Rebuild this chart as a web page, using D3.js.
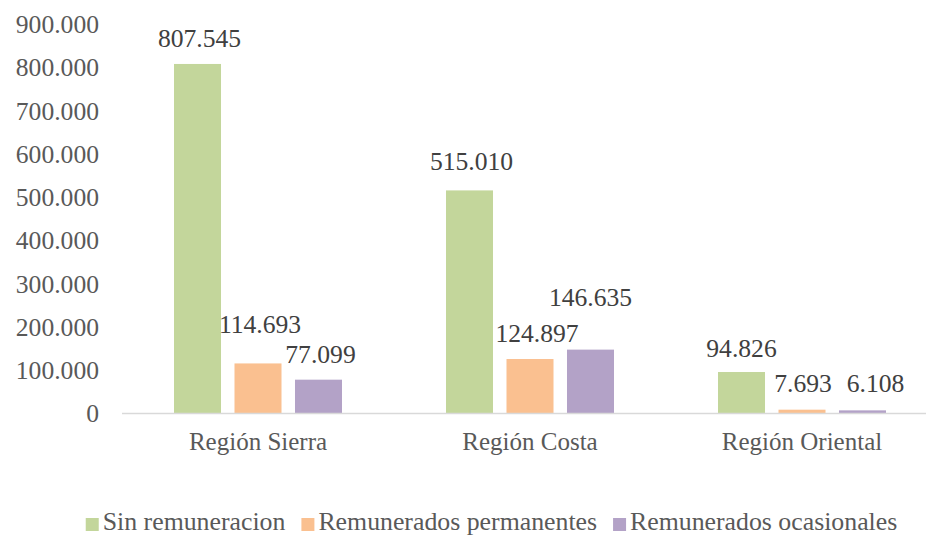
<!DOCTYPE html>
<html><head><meta charset="utf-8">
<script src="https://cdn.jsdelivr.net/npm/d3@7"></script>
<style>
html,body{margin:0;padding:0;background:#fff;}
svg text{font-family:"Liberation Serif","Times New Roman",serif;}
</style></head>
<body><svg id="c" width="930" height="536"></svg>
<script>
const categories = ["Región Sierra", "Región Costa", "Región Oriental"];
const seriesNames = ["Sin remuneracion", "Remunerados permanentes", "Remunerados ocasionales"];
const sinRemuneracion = [807545, 515010, 94826];
const remPermanentes = [114693, 124897, 7693];
const remOcasionales = [77099, 146635, 6108];
const yTicks = [0, 100000, 200000, 300000, 400000, 500000, 600000, 700000, 800000, 900000];
const colors = ["#c3d69b", "#fac090", "#b3a2c7"];
// label nudges (layout only): [series][category] -> [dx, extra dy]
const labelNudge = [
  [[2,0],[2,-3],[0,2]],
  [[2,-13],[7,0],[1,-1]],
  [[2,0],[0,-27],[13,-1]]
];

const series = [sinRemuneracion, remPermanentes, remOcasionales];
const fmt = v => d3.format(",")(v).replace(/,/g, ".");
const svg = d3.select("#c");
const FS = 25;
const FF = "Liberation Serif, Times New Roman, serif";

const x0 = d3.scaleBand().domain(categories).range([122, 938]).paddingInner(0).paddingOuter(0);
const x1 = d3.scaleBand().domain(seriesNames).range([52, 220]).paddingInner(0.223).paddingOuter(0);
const y = d3.scaleLinear().domain([0, 900000]).range([413, 24]);

// y-axis tick labels
const yAxis = d3.axisLeft(y).tickValues(yTicks).tickFormat(fmt).tickSize(0).tickPadding(0);
const gy = svg.append("g").attr("transform", "translate(99,0)").call(yAxis).attr("font-family", FF);
gy.select(".domain").remove();
gy.selectAll("text").attr("font-size", 25.6).attr("fill", "#595959").attr("dy", "0.34em");

// bars
categories.forEach((cat, ci) => {
  series.forEach((vals, si) => {
    const v = vals[ci];
    const bx = x0(cat) + x1(seriesNames[si]);
    svg.append("rect").attr("x", bx).attr("y", y(v))
      .attr("width", x1.bandwidth()).attr("height", y(0) - y(v))
      .attr("fill", colors[si]);
  });
});

// x axis line and labels
const xAxis = d3.axisBottom(x0).tickSize(0).tickPadding(0);
const gx = svg.append("g").attr("transform", "translate(0," + y(0) + ")").call(xAxis).attr("font-family", FF);
gx.select(".domain").remove();
svg.append("line").attr("x1", 122).attr("x2", 926).attr("y1", y(0) + 0.5).attr("y2", y(0) + 0.5)
  .attr("stroke", "#d9d9d9").attr("stroke-width", 1.3);
gx.selectAll("text").attr("font-size", FS).attr("fill", "#595959").attr("y", 37).attr("dy", 0);

// data labels
categories.forEach((cat, ci) => {
  series.forEach((vals, si) => {
    const v = vals[ci];
    const cx = x0(cat) + x1(seriesNames[si]) + x1.bandwidth() / 2;
    const nd = labelNudge[si][ci];
    svg.append("text").attr("x", cx + nd[0]).attr("y", y(v) - 17 + nd[1])
      .attr("text-anchor", "middle").attr("font-size", 25.6).attr("font-family", FF).attr("fill", "#404040")
      .text(fmt(v));
  });
});

// legend
const lg = svg.append("g").attr("font-family", FF);
let lx = 0;
seriesNames.forEach((name, si) => {
  const g = lg.append("g").attr("transform", "translate(" + lx + ",0)");
  g.append("rect").attr("x", 0).attr("y", 518).attr("width", 13).attr("height", 13).attr("fill", colors[si]);
  const t = g.append("text").attr("x", 17).attr("y", 530).attr("font-size", 25.8).attr("fill", "#595959").text(name);
  lx += 17 + t.node().getComputedTextLength() + 16;
});
const totalW = lx - 16;
lg.attr("transform", "translate(" + (491.5 - totalW / 2) + ",0)");
</script></body></html>
